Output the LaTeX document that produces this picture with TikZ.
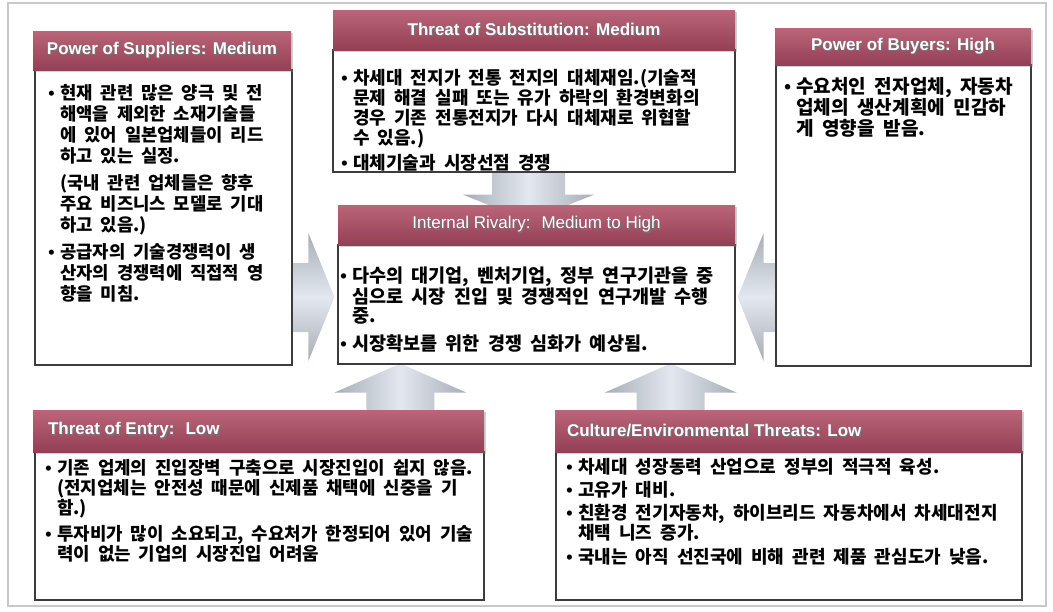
\documentclass[tikz,border=0pt]{standalone}
\usepackage{fontspec}
\setmainfont{Noto Sans CJK KR}[WordSpace=1.95]
\newfontfamily\hfont{Liberation Sans}
\usetikzlibrary{calc,fit,shadows}

\definecolor{hdtop}{HTML}{BA6579}
\definecolor{hdbot}{HTML}{943F55}
\definecolor{boxline}{HTML}{3C3C3C}
\definecolor{frameline}{HTML}{C8C8C8}
\definecolor{arrowedge}{HTML}{A7ADB6}
\definecolor{arrowmid}{HTML}{E3E8F0}

% bullet column and hanging indent for the list texts
\newcommand\bul{\makebox[9pt][l]{\hfont\textbullet}}
\newcommand\ind{\hspace*{9pt}}
% lines of a list set on a fixed baseline grid; the first line gives the baseline
\newcommand\lines[1]{\vtop{\halign{##\hfil\cr#1\crcr}}}
% end of a list item: line break plus a little extra space
\newcommand\gp[1]{\cr\noalign{\vskip#1}}
% white title with a small dark drop shadow
\newcommand\shd[1]{\makebox[0pt][l]{\kern0.9pt\raisebox{-0.9pt}{\textcolor{black!55}{#1}}}#1}
\newcommand\bodysize[2]{\bfseries\fontsize{#1}{#2}\selectfont}

\pgfdeclarelayer{back}
\pgfsetlayers{back,main}

\tikzset{
  frame/.style={draw=frameline, line width=1.5pt, inner sep=0pt},
  hdr/.style={inner sep=0pt, top color=hdtop, bottom color=hdbot, draw=none,
    drop shadow={shadow xshift=1.5pt, shadow yshift=-1.5pt, opacity=0.35}},
  bodybox/.style={inner sep=0pt, draw=boxline, line width=0.9pt, fill=white},
  title/.style={inner sep=0pt, text=white, font=\hfont\bfseries\fontsize{12.75pt}{14pt}\selectfont},
  titlelt/.style={inner sep=0pt, text=white, font=\hfont\fontsize{12.75pt}{14pt}\selectfont},
  bodytext/.style={anchor=base west, inner sep=0pt},
  harrow/.style={top color=arrowedge, bottom color=arrowedge, middle color=arrowmid},
  varrow/.style={left color=arrowedge, right color=arrowedge, middle color=arrowmid},
}

\begin{document}
\begin{tikzpicture}[x=0.75pt, y=-0.75pt]
\useasboundingbox (0,0) rectangle (1053,611);

% ---- body boxes ----
\node[bodybox, fit={(35,70)(292,365)}]   (supb) {};
\node[bodybox, fit={(333,50)(735,172)}]  (subb) {};
\node[bodybox, fit={(776,65)(1031,366)}] (buyb) {};
\node[bodybox, fit={(338,245)(735,364)}] (rivb) {};
\node[bodybox, fit={(35,452)(484,600)}]  (entb) {};
\node[bodybox, fit={(556,452)(1022,600)}] (culb) {};

% ---- title bars ----
\node[hdr, fit={(33,31)(291,70)}]    (suph) {};
\node[hdr, fit={(333,10)(735,50)}]   (subh) {};
\node[hdr, fit={(775,28)(1031,65)}]  (buyh) {};
\node[hdr, fit={(338,205)(735,245)}] (rivh) {};
\node[hdr, fit={(33,410)(484,452)}]  (enth) {};
\node[hdr, fit={(555,410)(1022,452)}] (culh) {};

\node[title] (supt) at (suph.center) {\shd{Power of Suppliers: Medium}};
\node[title] (subt) at (subh.center) {\shd{Threat of Substitution: Medium}};
\node[title] (buyt) at (buyh.center) {\shd{Power of Buyers: High}};
\node[titlelt] (rivt) at (rivh.center) {\shd{Internal Rivalry:~ Medium to High}};
\node[title, anchor=west] (entt) at ($(enth.west)+(15,0)$) {\shd{Threat of Entry:~ Low}};
\node[title, anchor=west] (cult) at ($(culh.west)+(12,0)$) {\shd{Culture/Environmental Threats: Low}};

% ---- list texts ----
\node[bodytext, font={\bodysize{13.3pt}{15.75pt}}] (supx) at (48,99) {\lines{%
\bul 현재 관련 많은 양극 및 전\cr
\ind 해액을 제외한 소재기술들\cr
\ind 에 있어 일본업체들이 리드\cr
\ind 하고 있는 실정.\gp{4.5pt}
\ind (국내 관련 업체들은 향후\cr
\ind 주요 비즈니스 모델로 기대\cr
\ind 하고 있음.)\gp{4.5pt}
\bul 공급자의 기술경쟁력이 생\cr
\ind 산자의 경쟁력에 직접적 영\cr
\ind 향을 미침.}};

\node[bodytext, font={\bodysize{13.5pt}{15pt}}] (subx) at (341,84) {\lines{%
\bul 차세대 전지가 전통 전지의 대체재임.(기술적\cr
\ind 문제 해결 실패 또는 유가 하락의 환경변화의\cr
\ind 경우 기존 전통전지가 다시 대체재로 위협할\cr
\ind 수 있음.)\gp{3.75pt}
\bul 대체기술과 시장선점 경쟁}};

\node[bodytext, font={\bodysize{14.3pt}{16.1pt}}] (buyx) at (784,93) {\lines{%
\bul 수요처인 전자업체, 자동차\cr
\ind 업체의 생산계획에 민감하\cr
\ind 게 영향을 받음.}};

\node[bodytext, font={\bodysize{13.9pt}{14.6pt}}] (rivx) at (340,282) {\lines{%
\bul 다수의 대기업, 벤처기업, 정부 연구기관을 중\cr
\ind 심으로 시장 진입 및 경쟁적인 연구개발 수행\cr
\ind 중.\gp{6pt}
\bul 시장확보를 위한 경쟁 심화가 예상됨.}};

\node[bodytext, font={\bodysize{13.4pt}{15pt}}] (entx) at (45,474) {\lines{%
\bul 기존 업계의 진입장벽 구축으로 시장진입이 쉽지 않음.\cr
\ind (전지업체는 안전성 때문에 신제품 채택에 신중을 기\cr
\ind 함.)\gp{4.5pt}
\bul 투자비가 많이 소요되고, 수요처가 한정되어 있어 기술\cr
\ind 력이 없는 기업의 시장진입 어려움}};

\node[bodytext, font={\bodysize{13.5pt}{15pt}}] (culx) at (566,473) {\lines{%
\bul 차세대 성장동력 산업으로 정부의 적극적 육성.\gp{2.6pt}
\bul 고유가 대비.\gp{2.6pt}
\bul 친환경 전기자동차, 하이브리드 자동차에서 차세대전지\cr
\ind 채택 니즈 증가.\gp{2.6pt}
\bul 국내는 아직 선진국에 비해 관련 제품 관심도가 낮음.}};

% ---- frame and block arrows, behind the boxes ----
\begin{pgfonlayer}{back}
\fill[white] (0,0) rectangle (1053,611);
\node[frame, fit={(8,3)(1046,606)}] (frame) {};

\coordinate (tipL)  at ($(rivb.west)+(-3,-7.5)$);
\coordinate (tipR)  at ($(rivb.east)+(2,-7.5)$);
\coordinate (tipT)  at ($(rivh.north)+(-8.5,16)$);
\coordinate (tipBL) at ($(rivb.south west)+(63,-1)$);
\coordinate (tipBR) at ($(rivb.south east)+(-65,-1)$);

% suppliers -> rivalry
\path[harrow] (tipL) -- ++(-26,-64) -- ++(0,30) -- ++(-24,0) -- ++(0,69)
  -- ++(24,0) -- ++(0,29) -- cycle;
% buyers -> rivalry
\path[harrow] (tipR) -- ++(26,-64) -- ++(0,30) -- ++(24,0) -- ++(0,69)
  -- ++(-24,0) -- ++(0,29) -- cycle;
% substitution -> rivalry
\path[varrow] (tipT) -- ++(-65,-26) -- ++(29,0) -- ++(0,-35) -- ++(73,0)
  -- ++(0,35) -- ++(29,0) -- cycle;
% entry -> rivalry
\path[varrow] (tipBL) -- ++(-66,29) -- ++(32,0) -- ++(0,28) -- ++(68,0)
  -- ++(0,-28) -- ++(32,0) -- cycle;
% culture/environment -> rivalry
\path[varrow] (tipBR) -- ++(-66,29) -- ++(32,0) -- ++(0,28) -- ++(68,0)
  -- ++(0,-28) -- ++(32,0) -- cycle;
\end{pgfonlayer}
\end{tikzpicture}
\end{document}
